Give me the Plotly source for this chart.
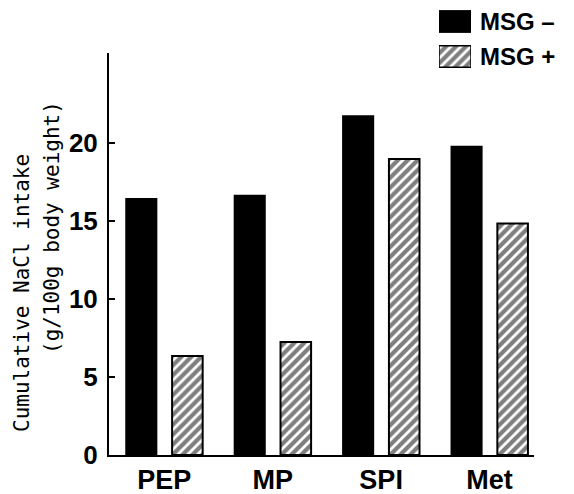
import plotly.graph_objects as go

categories = ["PEP", "MP", "SPI", "Met"]
msg_minus = [16.45, 16.65, 21.75, 19.8]
msg_plus = [6.35, 7.25, 19.0, 14.85]
y_ticks = [0, 5, 10, 15, 20]
legend_labels = ["MSG +", "MSG –"]

W, H = 574, 494
ML, MB = 109, 39
PW, PH = W - ML, H - MB  # paper size in px

def px_x(p):
    return (p - ML) / PW

def px_y(p):
    return (H - MB - p) / PH

hatch = dict(shape="/", fgcolor="black", bgcolor="white", size=7, solidity=0.6)

fig = go.Figure()

fig.add_trace(go.Bar(
    x=categories, y=msg_minus, name="MSG -",
    offset=-0.353, width=0.282,
    marker=dict(color="black", line=dict(color="black", width=1.5)),
    showlegend=False,
))
fig.add_trace(go.Bar(
    x=categories, y=msg_plus, name="MSG +",
    offset=0.072, width=0.282,
    marker=dict(color="white", line=dict(color="black", width=2), pattern=hatch),
    showlegend=False,
))

# legend swatches
fig.add_trace(go.Bar(
    y=[legend_labels[1]], x=[1], orientation="h", width=0.62,
    xaxis="x2", yaxis="y2", showlegend=False,
    marker=dict(color="black", line=dict(color="black", width=1)),
))
fig.add_trace(go.Bar(
    y=[legend_labels[0]], x=[1], orientation="h", width=0.62,
    xaxis="x2", yaxis="y2", showlegend=False,
    marker=dict(color="white", line=dict(color="black", width=1.5), pattern=hatch),
))

bold = dict(family="Liberation Sans, Arial, sans-serif", color="black", weight="bold")
mono = dict(family="DejaVu Sans Mono", size=21, color="black")

fig.update_layout(
    width=W, height=H,
    margin=dict(l=ML, r=0, t=0, b=MB),
    plot_bgcolor="white", paper_bgcolor="white",
    barmode="overlay",
    xaxis=dict(
        domain=[0, 425 / PW], range=[-0.51, 3.41],
        showline=True, linecolor="black", linewidth=2,
        ticks="", showgrid=False, zeroline=False,
        tickfont=dict(size=27, **bold),
        categoryorder="array", categoryarray=categories,
    ),
    yaxis=dict(
        domain=[0, px_y(53)], range=[0, 25.8],
        showline=True, linecolor="black", linewidth=2,
        ticks="inside", ticklen=6, tickwidth=2, tickcolor="black",
        tickvals=y_ticks, showgrid=False, zeroline=False,
        tickfont=dict(size=26, **bold), ticklabelstandoff=4,
    ),
    xaxis2=dict(domain=[px_x(439), px_x(471)], range=[0, 1], visible=False,
                anchor="y2", fixedrange=True),
    yaxis2=dict(domain=[px_y(74), px_y(4)], anchor="x2", side="right",
                showline=False, ticks="", showgrid=False, zeroline=False,
                categoryorder="array", categoryarray=legend_labels,
                tickfont=dict(size=24, **bold), ticklabelstandoff=8),
    annotations=[
        dict(text="Cumulative NaCl intake", xref="paper", yref="paper",
             x=px_x(22), y=px_y(293), xanchor="center", yanchor="middle",
             textangle=-90, showarrow=False, font=mono),
        dict(text="(g/100g body weight)", xref="paper", yref="paper",
             x=px_x(52), y=px_y(228), xanchor="center", yanchor="middle",
             textangle=-90, showarrow=False, font=mono),
    ],
)

fig.write_html("out.html", config={"displayModeBar": False},
               post_script="document.body.style.margin='0';document.body.style.overflow='hidden';")
